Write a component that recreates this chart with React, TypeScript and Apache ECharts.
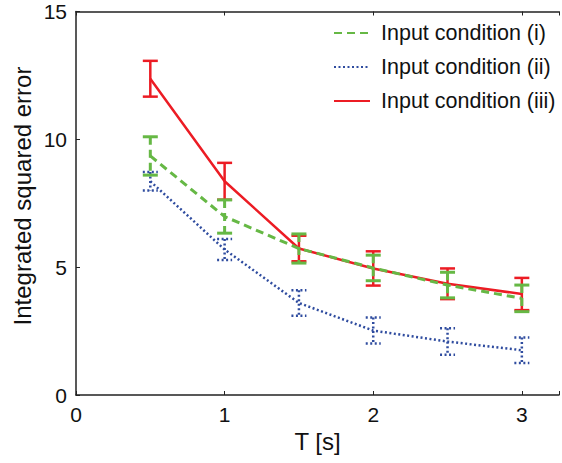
import React, { useEffect, useRef } from "react";
import * as echarts from "echarts";

const xs = [0.5, 1, 1.5, 2, 2.5, 3];
const names = ["Input condition (i)", "Input condition (ii)", "Input condition (iii)"];
const mean1 = [9.35, 6.98, 5.73, 4.97, 4.3, 3.78];
const err1 = [0.75, 0.65, 0.57, 0.5, 0.5, 0.52];
const mean2 = [8.36, 5.69, 3.6, 2.52, 2.09, 1.75];
const err2 = [0.36, 0.41, 0.5, 0.51, 0.52, 0.5];
const mean3 = [12.37, 8.36, 5.73, 4.95, 4.35, 3.95];
const err3 = [0.7, 0.72, 0.5, 0.67, 0.6, 0.63];
const xTicks = [0, 1, 2, 3];
const yTicks = [0, 5, 10, 15];
const xTitle = "T [s]";
const yTitle = "Integrated squared error";

const FONT = "Liberation Sans, Arial, Helvetica, sans-serif";
const GREEN = "#66b845";
const BLUE = "#2f4c9f";
const RED = "#ec1c24";

export default function App() {
  const ref = useRef<HTMLDivElement>(null);
  useEffect(() => {
    if (!ref.current) return;
    const chart = echarts.init(ref.current, undefined, { renderer: "svg" });

    const styles = [
      { color: GREEN, width: 3, dash: [8, 5] as number[] | null, capDash: null as number[] | null },
      { color: BLUE, width: 2.5, dash: [2, 2.5] as number[] | null, capDash: [2, 2.5] as number[] | null },
      { color: RED, width: 2.5, dash: null as number[] | null, capDash: null as number[] | null },
    ];
    const means = [mean1, mean2, mean3];
    const errs = [err1, err2, err3];

    const lineSeries = means.map((m, i) => ({
      type: "line",
      name: names[i],
      data: xs.map((x, j) => [x, m[j]]),
      symbol: "none",
      z: i === 0 ? 5 : i === 1 ? 4 : 3,
      lineStyle: {
        color: styles[i].color,
        width: styles[i].width,
        type: styles[i].dash ? styles[i].dash : "solid",
      },
      itemStyle: { color: styles[i].color },
    }));

    const errSeries = means.map((m, i) => ({
      type: "custom",
      name: "err" + i,
      z: i === 0 ? 5 : i === 1 ? 4 : 3,
      data: xs.map((x, j) => [x, m[j] - errs[i][j], m[j] + errs[i][j]]),
      renderItem: (params: any, api: any) => {
        const x = api.value(0);
        const lo = api.value(1);
        const hi = api.value(2);
        const top = api.coord([x, hi]);
        const bot = api.coord([x, lo]);
        const hw = 7.5;
        const st: any = {
          stroke: styles[i].color,
          lineWidth: styles[i].width,
          fill: "none",
        };
        if (styles[i].dash) st.lineDash = styles[i].dash;
        const cst: any = {
          stroke: styles[i].color,
          lineWidth: styles[i].width,
          fill: "none",
        };
        if (styles[i].capDash) cst.lineDash = styles[i].capDash;
        return {
          type: "group",
          children: [
            { type: "line", shape: { x1: top[0], y1: top[1], x2: bot[0], y2: bot[1] }, style: st },
            { type: "line", shape: { x1: top[0] - hw, y1: top[1], x2: top[0] + hw, y2: top[1] }, style: cst },
            { type: "line", shape: { x1: bot[0] - hw, y1: bot[1], x2: bot[0] + hw, y2: bot[1] }, style: cst },
          ],
        };
      },
    }));

    const axisLine = { show: true, lineStyle: { color: "#222", width: 1.5 } };

    chart.setOption({
      animation: false,
      grid: { left: 76, top: 11.5, bottom: 68, right: 0, containLabel: false },
      legend: {
        data: names,
        orient: "vertical",
        left: 328,
        top: 17,
        itemWidth: 36,
        itemHeight: 14,
        itemGap: 12,
        itemStyle: { opacity: 0 },
        textStyle: {
          fontFamily: FONT,
          fontSize: 21.5,
          color: "#111",
          lineHeight: 21,
          padding: [0, 0, 0, 6],
        },
      },
      graphic: [
        {
          type: "text",
          x: 22,
          y: 196,
          rotation: Math.PI / 2,
          style: {
            text: yTitle,
            fontFamily: FONT,
            fontSize: 24,
            fill: "#111",
            textAlign: "center",
            textVerticalAlign: "middle",
          },
        },
      ],
      xAxis: [
        {
          type: "value",
          min: 0,
          max: 3.25,
          interval: 1,
          name: xTitle,
          nameLocation: "middle",
          nameGap: 33,
          nameTextStyle: { fontFamily: FONT, fontSize: 24, color: "#111" },
          axisLine,
          axisTick: { show: true, inside: true, length: 4, lineStyle: { color: "#222", width: 1 } },
          axisLabel: { fontFamily: FONT, fontSize: 21, color: "#111", margin: 9,
            formatter: (v: number) => (xTicks.indexOf(v) >= 0 ? String(v) : "") },
          splitLine: { show: false },
        },
        {
          type: "value",
          position: "top",
          min: 0,
          max: 3.25,
          interval: 1,
          axisLine,
          axisTick: { show: true, inside: true, length: 4, lineStyle: { color: "#222", width: 1 } },
          axisLabel: { show: false },
          splitLine: { show: false },
        },
      ],
      yAxis: {
        type: "value",
        min: 0,
        max: 15,
        interval: 5,
        axisLine,
        axisTick: { show: true, inside: true, length: 4, lineStyle: { color: "#222", width: 1 } },
        axisLabel: { fontFamily: FONT, fontSize: 21, color: "#111", margin: 9,
          formatter: (v: number) => (yTicks.indexOf(v) >= 0 ? String(v) : "") },
        splitLine: { show: false },
      },
      series: [...lineSeries, ...errSeries],
    });
    return () => chart.dispose();
  }, []);
  return <div ref={ref} style={{ width: 562, height: 463, position: "absolute", left: 0, top: 0 }} />;
}
